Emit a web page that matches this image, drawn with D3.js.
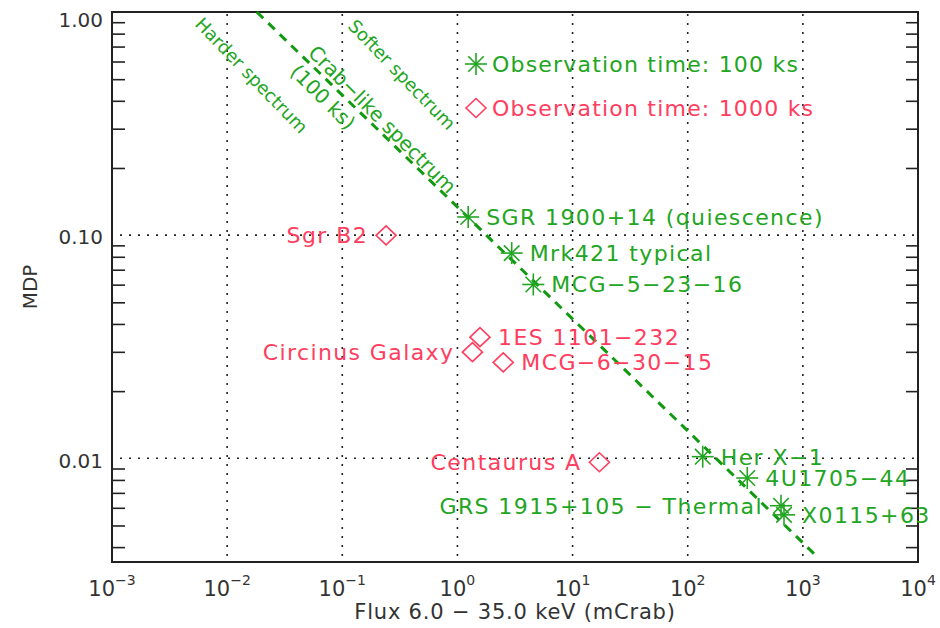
<!DOCTYPE html>
<html>
<head>
<meta charset="utf-8">
<script src="https://cdn.jsdelivr.net/npm/d3@7"></script>
<style>
  body { margin: 0; background: #fff; }
  text { font-family: "DejaVu Sans", sans-serif; }
</style>
</head>
<body>
<div id="graphic"></div>
<script>
// x decades and the y labels
var fluxTicks = [1e-3, 1e-2, 1e-1, 1e0, 1e1, 1e2, 1e3, 1e4];
var fluxExp = ["-3", "-2", "-1", "0", "1", "2", "3", "4"];
var mdpMajor = [1, 0.1, 0.01];
var mdpLabels = ["1.00", "0.10", "0.01"];
var mdpMinor = [0.004, 0.005, 0.006, 0.007, 0.008, 0.009,
                0.02, 0.03, 0.04, 0.05, 0.06, 0.07, 0.08, 0.09,
                0.2, 0.3, 0.4, 0.5, 0.6, 0.7, 0.8, 0.9];

// sources, 100 ks (green asterisks)
var names100 = ["SGR 1900+14 (quiescence)", "Mrk421 typical", "MCG\u22125\u221223\u221216",
                "Her X\u22121", "4U1705\u221244", "GRS 1915+105 \u2212 Thermal", "X0115+63"];
var flux100 = [1.24, 2.96, 4.56, 135, 329, 646, 686];
var mdp100 = [0.1206, 0.0831, 0.0601, 0.01017, 0.00816, 0.00613, 0.00558];
var side100 = ["r", "r", "r", "r", "r", "l", "r"];

// sources, 1000 ks (red diamonds)
var names1000 = ["Sgr B2", "1ES 1101\u2212232", "Circinus Galaxy", "MCG\u22126\u221230\u221215", "Centaurus A"];
var flux1000 = [0.240, 1.57, 1.35, 2.50, 17.1];
var mdp1000 = [0.0998, 0.0349, 0.0299, 0.0269, 0.0096];
var side1000 = ["l", "r", "l", "r", "l"];

// crab-like spectrum line (ends)
var crabFlux = [0.0181, 1355];
var crabMdp = [1.0, 0.00359];

var green = "#22a522", darkGreen = "#119a11", red = "#ff3d5e", axisCol = "#222";

var w = 940, h = 628;
var pL = 112, pR = 918, pT = 12, pB = 562;

var svg = d3.select("#graphic").append("svg")
    .attr("width", w).attr("height", h);

var xScale = d3.scaleLog().domain([1e-3, 1e4]).range([pL, pR]);
var yScale = d3.scaleLog().domain([0.00343, 1]).range([pB, pT]);

// dotted grid
svg.append("g").selectAll("line")
   .data(fluxTicks.slice(1, -1))
   .enter().append("line")
   .attr("x1", function(d){ return xScale(d); })
   .attr("x2", function(d){ return xScale(d); })
   .attr("y1", pT + 2).attr("y2", pB)
   .attr("stroke", axisCol).attr("stroke-width", 1.6)
   .attr("stroke-dasharray", "2,7");
svg.append("g").selectAll("line")
   .data(mdpMajor.slice(1))
   .enter().append("line")
   .attr("y1", function(d){ return yScale(d); })
   .attr("y2", function(d){ return yScale(d); })
   .attr("x1", pL + 8).attr("x2", pR)
   .attr("stroke", axisCol).attr("stroke-width", 1.6)
   .attr("stroke-dasharray", "2,7");

// minor ticks left and right
svg.append("g")
   .attr("transform", "translate(" + pL + ",0)")
   .call(d3.axisRight(yScale).tickValues(mdpMinor).tickSize(13).tickFormat(""))
   .call(function(g){ g.select(".domain").remove(); })
   .selectAll("line").attr("stroke", axisCol).attr("stroke-width", 1.6);
svg.append("g")
   .attr("transform", "translate(" + pR + ",0)")
   .call(d3.axisLeft(yScale).tickValues(mdpMinor).tickSize(12).tickFormat(""))
   .call(function(g){ g.select(".domain").remove(); })
   .selectAll("line").attr("stroke", axisCol).attr("stroke-width", 1.6);

// frame
svg.append("rect")
   .attr("x", pL).attr("y", pT)
   .attr("width", pR - pL).attr("height", pB - pT)
   .attr("fill", "none").attr("stroke", axisCol).attr("stroke-width", 2);

// y labels
svg.append("g").selectAll("text")
   .data(mdpMajor)
   .enter().append("text")
   .attr("x", pL - 9)
   .attr("y", function(d){ return Math.max(yScale(d) + 2, 20); })
   .attr("dy", "0.36em")
   .attr("text-anchor", "end")
   .attr("font-size", 20).attr("fill", "#333")
   .text(function(d, i){ return mdpLabels[i]; });

// x labels with exponents
var xl = svg.append("g").selectAll("text")
   .data(fluxTicks)
   .enter().append("text")
   .attr("x", function(d){ return xScale(d); })
   .attr("y", 596)
   .attr("text-anchor", "middle")
   .attr("font-size", 21).attr("fill", "#333");
xl.append("tspan").text("10");
xl.append("tspan")
  .attr("font-size", 14).attr("dy", -11)
  .text(function(d, i){ return fluxExp[i].replace("-", "\u2212"); });

// axis titles
svg.append("text")
   .attr("x", 515).attr("y", 619)
   .attr("text-anchor", "middle")
   .attr("font-size", 21).attr("letter-spacing", 0.8).attr("fill", "#333")
   .text("Flux 6.0 \u2212 35.0 keV (mCrab)");
svg.append("text")
   .attr("transform", "translate(37,287) rotate(-90)")
   .attr("text-anchor", "middle")
   .attr("font-size", 20).attr("fill", "#333")
   .text("MDP");

// crab-like line
var line = d3.line()
    .x(function(d){ return xScale(d[0]); })
    .y(function(d){ return yScale(d[1]); });
svg.append("path")
   .datum(d3.zip(crabFlux, crabMdp))
   .attr("d", line)
   .attr("fill", "none").attr("stroke", darkGreen)
   .attr("stroke-width", 3).attr("stroke-dasharray", "9,7");

// rotated annotations
function rotText(x, y, ang, size, txt){
    svg.append("text")
       .attr("transform", "translate(" + x + "," + y + ") rotate(" + ang + ")")
       .attr("font-size", size).attr("fill", green)
       .text(txt);
}
rotText(194, 25, 46, 18, "Harder spectrum");
rotText(347, 27, 46, 18, "Softer spectrum");
rotText(307, 54, 45, 20, "Crab\u2212like spectrum");
rotText(289, 73, 45, 20, "(100 ks)");

function star(g, col){
    var r = 11;
    [0, 45, 90, 135].forEach(function(a){
        var t = a * Math.PI / 180;
        g.append("line")
         .attr("x1", -r * Math.cos(t)).attr("y1", -r * Math.sin(t))
         .attr("x2", r * Math.cos(t)).attr("y2", r * Math.sin(t))
         .attr("stroke", col).attr("stroke-width", 1.6);
    });
}
function diamond(g, col){
    g.append("path")
     .attr("d", "M-10,0L0,-9.5L10,0L0,9.5Z")
     .attr("fill", "none").attr("stroke", col).attr("stroke-width", 1.6);
}

function labelled(names, flux, mdp, side, col, sym){
    var g = svg.append("g").selectAll("g")
       .data(names)
       .enter().append("g")
       .attr("transform", function(d, i){
           return "translate(" + xScale(flux[i]) + "," + yScale(mdp[i]) + ")";
       });
    g.each(function(){ sym(d3.select(this), col); });
    g.append("text")
     .attr("x", function(d, i){ return side[i] == "r" ? 18 : -18; })
     .attr("dy", "0.36em")
     .attr("text-anchor", function(d, i){ return side[i] == "r" ? "start" : "end"; })
     .attr("font-size", 22).attr("letter-spacing", 1.4).attr("fill", col)
     .text(function(d){ return d; });
}
labelled(names100, flux100, mdp100, side100, green, star);
labelled(names1000, flux1000, mdp1000, side1000, red, diamond);

// legend
var lg1 = svg.append("g").attr("transform", "translate(476,64)");
star(lg1, green);
lg1.append("text").attr("x", 16).attr("dy", "0.36em")
   .attr("font-size", 22).attr("letter-spacing", 1.2).attr("fill", green)
   .text("Observation time: 100 ks");
var lg2 = svg.append("g").attr("transform", "translate(476,108)");
diamond(lg2, red);
lg2.append("text").attr("x", 16).attr("dy", "0.36em")
   .attr("font-size", 22).attr("letter-spacing", 1.2).attr("fill", red)
   .text("Observation time: 1000 ks");
</script>
</body>
</html>
